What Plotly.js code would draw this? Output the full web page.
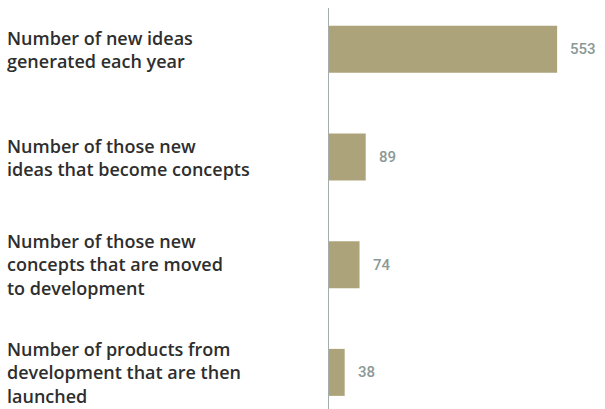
<!DOCTYPE html>
<html>
<head>
<meta charset="utf-8">
<script src="https://cdn.plot.ly/plotly-3.0.1.min.js"></script>
<style>html,body{margin:0;padding:0;background:#fff}#chart{width:605px;height:409px}</style>
</head>
<body>
<div id="chart"></div>
<script>
const categories = [
  "Number of new ideas<br>generated each year",
  "Number of those new<br>ideas that become concepts",
  "Number of those new<br>concepts that are moved<br>to development",
  "Number of products from<br>development that are then<br>launched"
];
const values = [553, 89, 74, 38];
const valueLabels = ["553", "89", "74", "38"];

const catIds = categories.map((c, i) => "c" + i);

const trace = {
  type: "bar",
  orientation: "h",
  x: values,
  y: catIds,
  width: 0.4365,
  marker: { color: "#ada37a" },
  hoverinfo: "none"
};

const annotations = [];
categories.forEach((c, i) => {
  annotations.push({
    xref: "paper", yref: "y", x: 0, y: catIds[i],
    xanchor: "left", yanchor: "middle", xshift: -324, align: "left",
    text: c, showarrow: false,
    font: { family: "Open Sans", size: 18, color: "#2e2e2e", weight: 600 }
  });
  annotations.push({
    xref: "x", yref: "y", x: values[i], y: catIds[i],
    xanchor: "left", yanchor: "middle", xshift: 11,
    text: valueLabels[i], showarrow: false,
    font: { family: "Roboto", size: 15, color: "#8a9996", weight: 500 }
  });
});

const layout = {
  width: 605, height: 409,
  margin: { l: 329, r: 0, t: 8, b: 0 },
  paper_bgcolor: "#ffffff", plot_bgcolor: "#ffffff",
  showlegend: false,
  xaxis: { range: [0, 669], visible: false, fixedrange: true },
  yaxis: {
    type: "category", range: [3.340, -0.384],
    showline: true, linecolor: "#a3aeac", linewidth: 1.5,
    showticklabels: false, ticks: "", showgrid: false, zeroline: false
  },
  annotations: annotations
};

Plotly.newPlot("chart", [trace], layout, { staticPlot: true, displayModeBar: false });
</script>
</body>
</html>
